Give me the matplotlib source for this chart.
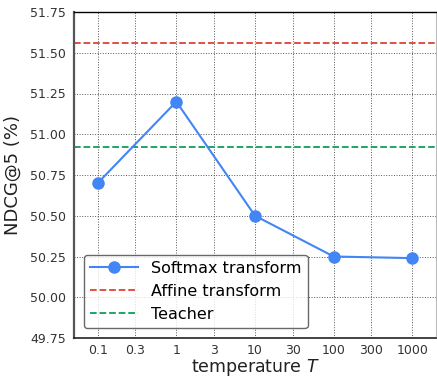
import matplotlib
matplotlib.use("Agg")
import matplotlib.pyplot as plt

temperatures = [0.1, 1, 10, 100, 1000]
softmax_ndcg = [50.70, 51.20, 50.50, 50.25, 50.24]
affine_ndcg = 51.56
teacher_ndcg = 50.92
xtick_values = [0.1, 0.3, 1, 3, 10, 30, 100, 300, 1000]
xtick_labels = ["0.1", "0.3", "1", "3", "10", "30", "100", "300", "1000"]
ytick_values = [49.75, 50.00, 50.25, 50.50, 50.75, 51.00, 51.25, 51.50, 51.75]

fig = plt.figure(figsize=(4.37, 3.77), dpi=100)
ax = fig.add_axes([74 / 437, 39 / 377, 362 / 437, 326 / 377])

ax.plot(temperatures, softmax_ndcg, color="#4285F4", marker="o", markersize=8,
        linewidth=1.5, label="Softmax transform", zorder=3)
ax.axhline(affine_ndcg, color="#DB4437", linestyle="--", linewidth=1.3, label="Affine transform")
ax.axhline(teacher_ndcg, color="#0F9D58", linestyle="--", linewidth=1.3, label="Teacher")

ax.set_xscale("log")
ax.set_xlim(0.05, 2000)
ax.set_ylim(49.75, 51.75)
ax.set_xticks(xtick_values)
ax.set_xticklabels(xtick_labels)
ax.minorticks_off()
ax.set_yticks(ytick_values)
ax.set_yticklabels([f"{v:.2f}" for v in ytick_values])
ax.tick_params(length=0, labelsize=9, colors="#333333")
ax.tick_params(axis="x", pad=4)
ax.tick_params(axis="y", pad=6)

ax.grid(True, linestyle=":", color="#555555", linewidth=0.7)
ax.set_axisbelow(True)

ax.spines["left"].set_color("#555555")
ax.spines["left"].set_linewidth(1.6)
ax.spines["bottom"].set_color("#222222")
ax.spines["bottom"].set_linewidth(1.2)
ax.spines["top"].set_color("black")
ax.spines["top"].set_linewidth(1.0)
ax.spines["right"].set_color("#bbbbbb")

ax.set_xlabel("temperature $T$", fontsize=12.5, color="#222222", labelpad=0)
ax.set_ylabel("NDCG@5 (%)", fontsize=13, color="#222222", labelpad=6)

leg = ax.legend(loc="lower left", fontsize=11.5, frameon=True, fancybox=True,
                edgecolor="#444444", borderaxespad=0.6, handlelength=3.0)
leg.get_frame().set_linewidth(1.0)

fig.savefig("out.png", dpi=100)
